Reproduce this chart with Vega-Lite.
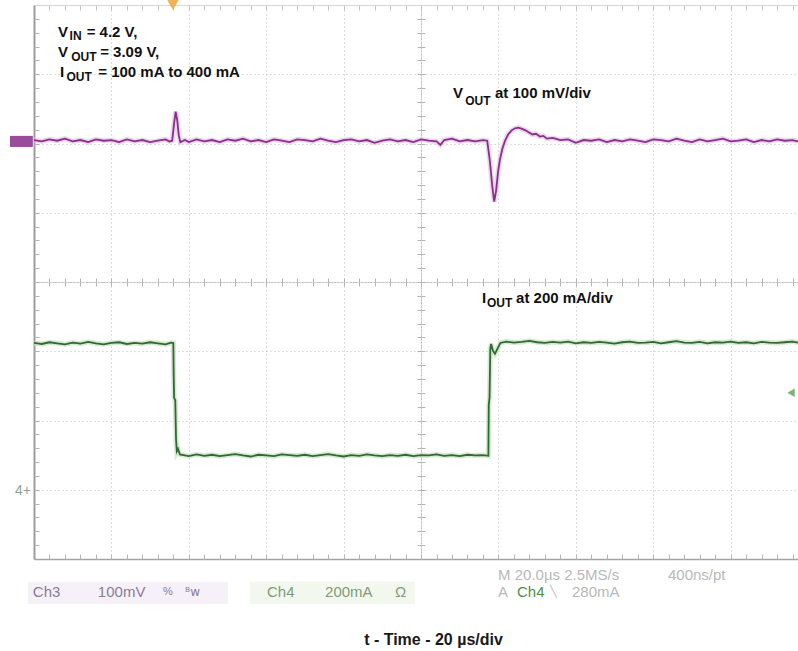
{
  "$schema": "https://vega.github.io/schema/vega-lite/v6.json",
  "width": 764,
  "height": 554,
  "autosize": "none",
  "padding": {"left": 34, "top": 5, "right": 0, "bottom": 92},
  "background": "white",
  "config": {"view": {"stroke": null}},
  "datasets": {
    "vout": [
      {"t": -100, "mv": 1}, {"t": -98, "mv": -1}, {"t": -96, "mv": 2}, {"t": -94, "mv": 0}, {"t": -92, "mv": 3},
      {"t": -90, "mv": -1}, {"t": -88, "mv": 1}, {"t": -86, "mv": -2}, {"t": -84, "mv": 2}, {"t": -82, "mv": 0},
      {"t": -80, "mv": 1}, {"t": -78, "mv": -2}, {"t": -76, "mv": 2}, {"t": -74, "mv": -1}, {"t": -72, "mv": 1},
      {"t": -70, "mv": -2}, {"t": -68, "mv": 0}, {"t": -66, "mv": 2}, {"t": -65, "mv": -1}, {"t": -64.3, "mv": 0},
      {"t": -63.8, "mv": 25}, {"t": -63.4, "mv": 42}, {"t": -63.0, "mv": 30}, {"t": -62.6, "mv": 8}, {"t": -62.2, "mv": -2},
      {"t": -61, "mv": 1}, {"t": -60, "mv": -2}, {"t": -58, "mv": 2}, {"t": -56, "mv": -1}, {"t": -54, "mv": 1},
      {"t": -52, "mv": -2}, {"t": -50, "mv": 2}, {"t": -48, "mv": 0}, {"t": -46, "mv": 3}, {"t": -44, "mv": -1},
      {"t": -42, "mv": 1}, {"t": -40, "mv": -2}, {"t": -38, "mv": 2}, {"t": -36, "mv": 0}, {"t": -34, "mv": -2},
      {"t": -32, "mv": 2}, {"t": -30, "mv": 1}, {"t": -28, "mv": -1}, {"t": -26, "mv": 3}, {"t": -24, "mv": 0},
      {"t": -22, "mv": -2}, {"t": -20, "mv": 1}, {"t": -18, "mv": 2}, {"t": -16, "mv": -1}, {"t": -14, "mv": 1},
      {"t": -12, "mv": -3}, {"t": -10, "mv": 0}, {"t": -8, "mv": 2}, {"t": -6, "mv": -1}, {"t": -4, "mv": 1},
      {"t": -2, "mv": -2}, {"t": 0, "mv": 2}, {"t": 2, "mv": 0}, {"t": 4, "mv": -1}, {"t": 5, "mv": -6},
      {"t": 6, "mv": 1}, {"t": 8, "mv": 3}, {"t": 10, "mv": -1}, {"t": 12, "mv": 1}, {"t": 14, "mv": -1},
      {"t": 16, "mv": 1}, {"t": 17.1, "mv": 0}, {"t": 17.8, "mv": -30}, {"t": 18.4, "mv": -65}, {"t": 18.9, "mv": -88},
      {"t": 19.4, "mv": -72}, {"t": 19.9, "mv": -45}, {"t": 20.4, "mv": -27}, {"t": 21.0, "mv": -12}, {"t": 21.7, "mv": 0},
      {"t": 22.5, "mv": 9}, {"t": 23.4, "mv": 15}, {"t": 24.3, "mv": 18}, {"t": 25.2, "mv": 19}, {"t": 26.1, "mv": 17},
      {"t": 27.0, "mv": 15}, {"t": 27.9, "mv": 12}, {"t": 28.8, "mv": 9}, {"t": 29.7, "mv": 10}, {"t": 30.7, "mv": 6},
      {"t": 31.6, "mv": 7}, {"t": 32.5, "mv": 3}, {"t": 34, "mv": 4}, {"t": 36, "mv": 1}, {"t": 38, "mv": 2},
      {"t": 40, "mv": -3}, {"t": 42, "mv": 1}, {"t": 44, "mv": 0}, {"t": 46, "mv": 2}, {"t": 48, "mv": -2},
      {"t": 50, "mv": 1}, {"t": 52, "mv": -1}, {"t": 54, "mv": 2}, {"t": 56, "mv": 0}, {"t": 58, "mv": -2},
      {"t": 60, "mv": 2}, {"t": 62, "mv": 1}, {"t": 64, "mv": -1}, {"t": 66, "mv": 3}, {"t": 68, "mv": 0},
      {"t": 70, "mv": -2}, {"t": 72, "mv": 2}, {"t": 74, "mv": -1}, {"t": 76, "mv": 1}, {"t": 78, "mv": 3},
      {"t": 80, "mv": -1}, {"t": 82, "mv": 0}, {"t": 84, "mv": 2}, {"t": 86, "mv": -2}, {"t": 88, "mv": 1},
      {"t": 90, "mv": -1}, {"t": 92, "mv": 2}, {"t": 94, "mv": 0}, {"t": 96, "mv": 1}, {"t": 97.4, "mv": -1}
    ],
    "iout": [
      {"t": -100, "ma": 428}, {"t": -98, "ma": 425}, {"t": -96, "ma": 430}, {"t": -94, "ma": 427}, {"t": -92, "ma": 424},
      {"t": -90, "ma": 429}, {"t": -88, "ma": 426}, {"t": -86, "ma": 431}, {"t": -84, "ma": 427}, {"t": -82, "ma": 424},
      {"t": -80, "ma": 428}, {"t": -78, "ma": 430}, {"t": -76, "ma": 425}, {"t": -74, "ma": 428}, {"t": -72, "ma": 426},
      {"t": -70, "ma": 430}, {"t": -68, "ma": 427}, {"t": -66, "ma": 424}, {"t": -64.6, "ma": 429}, {"t": -64.0, "ma": 428},
      {"t": -63.9, "ma": 330}, {"t": -63.8, "ma": 270}, {"t": -63.5, "ma": 262}, {"t": -63.3, "ma": 150}, {"t": -63.1, "ma": 115},
      {"t": -62.8, "ma": 122}, {"t": -62.3, "ma": 106}, {"t": -61, "ma": 103}, {"t": -60, "ma": 101}, {"t": -58, "ma": 106},
      {"t": -56, "ma": 102}, {"t": -54, "ma": 105}, {"t": -52, "ma": 101}, {"t": -50, "ma": 104}, {"t": -48, "ma": 107},
      {"t": -46, "ma": 103}, {"t": -44, "ma": 100}, {"t": -42, "ma": 105}, {"t": -40, "ma": 103}, {"t": -38, "ma": 101},
      {"t": -36, "ma": 106}, {"t": -34, "ma": 104}, {"t": -32, "ma": 102}, {"t": -30, "ma": 105}, {"t": -28, "ma": 101},
      {"t": -26, "ma": 104}, {"t": -24, "ma": 107}, {"t": -22, "ma": 103}, {"t": -20, "ma": 100}, {"t": -18, "ma": 104},
      {"t": -16, "ma": 102}, {"t": -14, "ma": 106}, {"t": -12, "ma": 103}, {"t": -10, "ma": 101}, {"t": -8, "ma": 104},
      {"t": -6, "ma": 102}, {"t": -4, "ma": 105}, {"t": -2, "ma": 101}, {"t": 0, "ma": 104}, {"t": 2, "ma": 103},
      {"t": 4, "ma": 106}, {"t": 6, "ma": 102}, {"t": 8, "ma": 104}, {"t": 10, "ma": 101}, {"t": 12, "ma": 105},
      {"t": 14, "ma": 103}, {"t": 16, "ma": 104}, {"t": 17.4, "ma": 102}, {"t": 17.5, "ma": 250}, {"t": 17.7, "ma": 270},
      {"t": 17.9, "ma": 410}, {"t": 18.1, "ma": 425}, {"t": 18.6, "ma": 405}, {"t": 19.1, "ma": 397}, {"t": 19.7, "ma": 410},
      {"t": 20.5, "ma": 428}, {"t": 22, "ma": 432}, {"t": 24, "ma": 429}, {"t": 26, "ma": 431}, {"t": 28, "ma": 434},
      {"t": 30, "ma": 430}, {"t": 32, "ma": 428}, {"t": 34, "ma": 431}, {"t": 36, "ma": 429}, {"t": 38, "ma": 432},
      {"t": 40, "ma": 427}, {"t": 42, "ma": 430}, {"t": 44, "ma": 428}, {"t": 46, "ma": 431}, {"t": 48, "ma": 429},
      {"t": 50, "ma": 426}, {"t": 52, "ma": 430}, {"t": 54, "ma": 432}, {"t": 56, "ma": 428}, {"t": 58, "ma": 429},
      {"t": 60, "ma": 431}, {"t": 62, "ma": 427}, {"t": 64, "ma": 430}, {"t": 66, "ma": 433}, {"t": 68, "ma": 429},
      {"t": 70, "ma": 428}, {"t": 72, "ma": 431}, {"t": 74, "ma": 427}, {"t": 76, "ma": 430}, {"t": 78, "ma": 429},
      {"t": 80, "ma": 432}, {"t": 82, "ma": 428}, {"t": 84, "ma": 430}, {"t": 86, "ma": 427}, {"t": 88, "ma": 431},
      {"t": 90, "ma": 429}, {"t": 92, "ma": 428}, {"t": 94, "ma": 430}, {"t": 96, "ma": 432}, {"t": 97.4, "ma": 429}
    ]
  },
  "layer": [
    {
      "data": {"values": [{}]},
      "layer": [
        {"mark": {"type": "rule", "opacity": 0}, "encoding": {"x": {"datum": 0, "type": "quantitative", "scale": {"domain": [-100, 97.4], "nice": false, "zero": false},
          "axis": {"orient": "bottom", "values": [-80, -60, -40, -20, 0, 20, 40, 60, 80], "grid": true, "gridColor": "#bdbdbd", "gridDash": [1, 3], "gridWidth": 1, "ticks": false, "labels": false, "domain": true, "domainColor": "#a3a3a3", "domainWidth": 1.5,
            "title": "t - Time - 20 µs/div", "titleFont": "Liberation Sans", "titleFontSize": 16, "titleFontWeight": "bold", "titleColor": "#1a1a1a", "titleAlign": "center", "titleBaseline": "alphabetic", "titleX": 399, "titleY": 85}}}},
        {"mark": {"type": "rule", "opacity": 0}, "encoding": {"x": {"datum": 0, "type": "quantitative", "scale": {"domain": [-100, 97.4], "nice": false, "zero": false},
          "axis": {"orient": "top", "offset": -554, "values": [-96,-92,-88,-84,-80,-76,-72,-68,-64,-60,-56,-52,-48,-44,-40,-36,-32,-28,-24,-20,-16,-12,-8,-4,0,4,8,12,16,20,24,28,32,36,40,44,48,52,56,60,64,68,72,76,80,84,88,92,96], "grid": false, "ticks": true, "tickSize": 5, "tickColor": "#b5b5b5", "labels": false, "domain": false, "title": null}}}},
        {"mark": {"type": "rule", "opacity": 0}, "encoding": {"x": {"datum": 0, "type": "quantitative", "scale": {"domain": [-100, 97.4], "nice": false, "zero": false},
          "axis": {"orient": "bottom", "offset": -554, "values": [-96,-92,-88,-84,-80,-76,-72,-68,-64,-60,-56,-52,-48,-44,-40,-36,-32,-28,-24,-20,-16,-12,-8,-4,0,4,8,12,16,20,24,28,32,36,40,44,48,52,56,60,64,68,72,76,80,84,88,92,96], "grid": false, "ticks": true, "tickSize": 5, "tickColor": "#c4c4c4", "labels": false, "domain": true, "domainColor": "#d6d6d6", "title": null}}}},
        {"mark": {"type": "rule", "opacity": 0}, "encoding": {"x": {"datum": 0, "type": "quantitative", "scale": {"domain": [-100, 97.4], "nice": false, "zero": false},
          "axis": {"orient": "bottom", "offset": -277, "values": [-96,-92,-88,-84,-80,-76,-72,-68,-64,-60,-56,-52,-48,-44,-40,-36,-32,-28,-24,-20,-16,-12,-8,-4,0,4,8,12,16,20,24,28,32,36,40,44,48,52,56,60,64,68,72,76,80,84,88,92,96], "grid": false, "ticks": true, "tickSize": 4, "tickColor": "#b5b5b5", "labels": false, "domain": true, "domainColor": "#bdbdbd", "domainDash": [2, 1], "title": null}}}},
        {"mark": {"type": "rule", "opacity": 0}, "encoding": {"x": {"datum": 0, "type": "quantitative", "scale": {"domain": [-100, 97.4], "nice": false, "zero": false},
          "axis": {"orient": "top", "offset": -277, "values": [-96,-92,-88,-84,-80,-76,-72,-68,-64,-60,-56,-52,-48,-44,-40,-36,-32,-28,-24,-20,-16,-12,-8,-4,0,4,8,12,16,20,24,28,32,36,40,44,48,52,56,60,64,68,72,76,80,84,88,92,96], "grid": false, "ticks": true, "tickSize": 4, "tickColor": "#b5b5b5", "labels": false, "domain": false, "title": null}}}},
        {"mark": {"type": "rule", "opacity": 0}, "encoding": {"y": {"datum": 0, "type": "quantitative", "scale": {"domain": [-4, 4], "nice": false, "zero": false},
          "axis": {"orient": "left", "values": [-3, -2, -1, 0, 1, 2, 3], "grid": true, "gridColor": "#bdbdbd", "gridDash": [1, 3], "gridWidth": 1, "ticks": false, "labels": false, "domain": true, "domainColor": "#9d9d9d", "domainWidth": 2, "title": null}}}},
        {"mark": {"type": "rule", "opacity": 0}, "encoding": {"y": {"datum": 0, "type": "quantitative", "scale": {"domain": [-4, 4], "nice": false, "zero": false},
          "axis": {"orient": "right", "offset": -764, "values": [-3.8,-3.6,-3.4,-3.2,-3,-2.8,-2.6,-2.4,-2.2,-2,-1.8,-1.6,-1.4,-1.2,-1,-0.8,-0.6,-0.4,-0.2,0,0.2,0.4,0.6,0.8,1,1.2,1.4,1.6,1.8,2,2.2,2.4,2.6,2.8,3,3.2,3.4,3.6,3.8], "grid": false, "ticks": true, "tickSize": 5, "tickColor": "#b5b5b5", "labels": false, "domain": false, "title": null}}}},
        {"mark": {"type": "rule", "opacity": 0}, "encoding": {"y": {"datum": 0, "type": "quantitative", "scale": {"domain": [-4, 4], "nice": false, "zero": false},
          "axis": {"orient": "left", "offset": -387, "values": [-3.8,-3.6,-3.4,-3.2,-3,-2.8,-2.6,-2.4,-2.2,-2,-1.8,-1.6,-1.4,-1.2,-1,-0.8,-0.6,-0.4,-0.2,0,0.2,0.4,0.6,0.8,1,1.2,1.4,1.6,1.8,2,2.2,2.4,2.6,2.8,3,3.2,3.4,3.6,3.8], "grid": false, "ticks": true, "tickSize": 4, "tickColor": "#b5b5b5", "labels": false, "domain": true, "domainColor": "#bdbdbd", "domainDash": [2, 1], "title": null}}}},
        {"mark": {"type": "rule", "opacity": 0}, "encoding": {"y": {"datum": 0, "type": "quantitative", "scale": {"domain": [-4, 4], "nice": false, "zero": false},
          "axis": {"orient": "right", "offset": -377, "values": [-3.8,-3.6,-3.4,-3.2,-3,-2.8,-2.6,-2.4,-2.2,-2,-1.8,-1.6,-1.4,-1.2,-1,-0.8,-0.6,-0.4,-0.2,0,0.2,0.4,0.6,0.8,1,1.2,1.4,1.6,1.8,2,2.2,2.4,2.6,2.8,3,3.2,3.4,3.6,3.8], "grid": false, "ticks": true, "tickSize": 4, "tickColor": "#b5b5b5", "labels": false, "domain": false, "title": null}}}},

        {"mark": {"type": "rect", "color": "#f6f1f8"}, "encoding": {"x": {"datum": -101.6, "type": "quantitative", "axis": null}, "x2": {"datum": -49.9}, "y": {"datum": -4.33, "type": "quantitative", "axis": null}, "y2": {"datum": -4.65}}},
        {"mark": {"type": "rect", "color": "#f3f8ef"}, "encoding": {"x": {"datum": -44.2, "type": "quantitative", "axis": null}, "x2": {"datum": -1.6}, "y": {"datum": -4.33, "type": "quantitative", "axis": null}, "y2": {"datum": -4.65}}},

        {"mark": {"type": "rect", "color": "#9a4c9c"}, "encoding": {"x": {"datum": -106.2, "type": "quantitative", "axis": null}, "x2": {"datum": -100.3}, "y": {"datum": 1.95, "type": "quantitative", "axis": null}, "y2": {"datum": 2.11}}},
        {"mark": {"type": "point", "shape": "triangle-down", "filled": true, "size": 130, "color": "#f2a43a", "opacity": 0.85}, "encoding": {"x": {"datum": -64.1, "type": "quantitative", "axis": null}, "y": {"datum": 4, "type": "quantitative", "axis": null}}},
        {"mark": {"type": "point", "shape": "triangle-left", "filled": true, "size": 70, "color": "#5a9e5a", "opacity": 0.8}, "encoding": {"x": {"datum": 95.6, "type": "quantitative", "axis": null}, "y": {"datum": -1.6, "type": "quantitative", "axis": null}}},
        {"mark": {"type": "text", "align": "left", "baseline": "middle", "font": "Liberation Sans", "fontSize": 14, "color": "#8fa08f"}, "encoding": {"x": {"datum": -104.9, "type": "quantitative", "axis": null}, "y": {"datum": -3.02, "type": "quantitative", "axis": null}, "text": {"value": "4+"}}},

        {"mark": {"type": "text", "align": "left", "baseline": "alphabetic", "font": "Liberation Sans", "fontWeight": "bold", "fontSize": 15, "color": "#111111"}, "encoding": {"x": {"datum": -93.8, "type": "quantitative", "axis": null}, "y": {"datum": 3.538, "type": "quantitative", "axis": null}, "text": {"value": "V"}}},
        {"mark": {"type": "text", "align": "left", "baseline": "alphabetic", "font": "Liberation Sans", "fontWeight": "bold", "fontSize": 12, "color": "#111111"}, "encoding": {"x": {"datum": -90.8, "type": "quantitative", "axis": null}, "y": {"datum": 3.49, "type": "quantitative", "axis": null}, "text": {"value": "IN"}}},
        {"mark": {"type": "text", "align": "left", "baseline": "alphabetic", "font": "Liberation Sans", "fontWeight": "bold", "fontSize": 15, "color": "#111111"}, "encoding": {"x": {"datum": -86.4, "type": "quantitative", "axis": null}, "y": {"datum": 3.538, "type": "quantitative", "axis": null}, "text": {"value": "= 4.2 V,"}}},
        {"mark": {"type": "text", "align": "left", "baseline": "alphabetic", "font": "Liberation Sans", "fontWeight": "bold", "fontSize": 15, "color": "#111111"}, "encoding": {"x": {"datum": -93.8, "type": "quantitative", "axis": null}, "y": {"datum": 3.249, "type": "quantitative", "axis": null}, "text": {"value": "V"}}},
        {"mark": {"type": "text", "align": "left", "baseline": "alphabetic", "font": "Liberation Sans", "fontWeight": "bold", "fontSize": 12, "color": "#111111"}, "encoding": {"x": {"datum": -90.4, "type": "quantitative", "axis": null}, "y": {"datum": 3.191, "type": "quantitative", "axis": null}, "text": {"value": "OUT"}}},
        {"mark": {"type": "text", "align": "left", "baseline": "alphabetic", "font": "Liberation Sans", "fontWeight": "bold", "fontSize": 15, "color": "#111111"}, "encoding": {"x": {"datum": -82.9, "type": "quantitative", "axis": null}, "y": {"datum": 3.249, "type": "quantitative", "axis": null}, "text": {"value": "= 3.09 V,"}}},
        {"mark": {"type": "text", "align": "left", "baseline": "alphabetic", "font": "Liberation Sans", "fontWeight": "bold", "fontSize": 15, "color": "#111111"}, "encoding": {"x": {"datum": -93.3, "type": "quantitative", "axis": null}, "y": {"datum": 2.96, "type": "quantitative", "axis": null}, "text": {"value": "I"}}},
        {"mark": {"type": "text", "align": "left", "baseline": "alphabetic", "font": "Liberation Sans", "fontWeight": "bold", "fontSize": 12, "color": "#111111"}, "encoding": {"x": {"datum": -91.6, "type": "quantitative", "axis": null}, "y": {"datum": 2.903, "type": "quantitative", "axis": null}, "text": {"value": "OUT"}}},
        {"mark": {"type": "text", "align": "left", "baseline": "alphabetic", "font": "Liberation Sans", "fontWeight": "bold", "fontSize": 15, "color": "#111111"}, "encoding": {"x": {"datum": -83.4, "type": "quantitative", "axis": null}, "y": {"datum": 2.96, "type": "quantitative", "axis": null}, "text": {"value": "= 100 mA to 400 mA"}}},
        {"mark": {"type": "text", "align": "left", "baseline": "alphabetic", "font": "Liberation Sans", "fontWeight": "bold", "fontSize": 15, "color": "#111111"}, "encoding": {"x": {"datum": 8.27, "type": "quantitative", "axis": null}, "y": {"datum": 2.657, "type": "quantitative", "axis": null}, "text": {"value": "V"}}},
        {"mark": {"type": "text", "align": "left", "baseline": "alphabetic", "font": "Liberation Sans", "fontWeight": "bold", "fontSize": 12, "color": "#111111"}, "encoding": {"x": {"datum": 11.4, "type": "quantitative", "axis": null}, "y": {"datum": 2.556, "type": "quantitative", "axis": null}, "text": {"value": "OUT"}}},
        {"mark": {"type": "text", "align": "left", "baseline": "alphabetic", "font": "Liberation Sans", "fontWeight": "bold", "fontSize": 15, "color": "#111111"}, "encoding": {"x": {"datum": 19.1, "type": "quantitative", "axis": null}, "y": {"datum": 2.657, "type": "quantitative", "axis": null}, "text": {"value": "at 100 mV/div"}}},
        {"mark": {"type": "text", "align": "left", "baseline": "alphabetic", "font": "Liberation Sans", "fontWeight": "bold", "fontSize": 15, "color": "#111111"}, "encoding": {"x": {"datum": 15.76, "type": "quantitative", "axis": null}, "y": {"datum": -0.303, "type": "quantitative", "axis": null}, "text": {"value": "I"}}},
        {"mark": {"type": "text", "align": "left", "baseline": "alphabetic", "font": "Liberation Sans", "fontWeight": "bold", "fontSize": 12, "color": "#111111"}, "encoding": {"x": {"datum": 17.05, "type": "quantitative", "axis": null}, "y": {"datum": -0.368, "type": "quantitative", "axis": null}, "text": {"value": "OUT"}}},
        {"mark": {"type": "text", "align": "left", "baseline": "alphabetic", "font": "Liberation Sans", "fontWeight": "bold", "fontSize": 15, "color": "#111111"}, "encoding": {"x": {"datum": 24.55, "type": "quantitative", "axis": null}, "y": {"datum": -0.303, "type": "quantitative", "axis": null}, "text": {"value": "at 200 mA/div"}}},

        {"mark": {"type": "text", "align": "left", "baseline": "middle", "font": "Liberation Sans", "fontSize": 15, "color": "#8c7a9a"}, "encoding": {"x": {"datum": -100.3, "type": "quantitative", "axis": null}, "y": {"datum": -4.477, "type": "quantitative", "axis": null}, "text": {"value": "Ch3"}}},
        {"mark": {"type": "text", "align": "left", "baseline": "middle", "font": "Liberation Sans", "fontSize": 15, "color": "#8c7a9a"}, "encoding": {"x": {"datum": -83.5, "type": "quantitative", "axis": null}, "y": {"datum": -4.477, "type": "quantitative", "axis": null}, "text": {"value": "100mV"}}},
        {"mark": {"type": "text", "align": "left", "baseline": "middle", "font": "Liberation Sans", "fontSize": 11, "color": "#8c7a9a"}, "encoding": {"x": {"datum": -66.7, "type": "quantitative", "axis": null}, "y": {"datum": -4.477, "type": "quantitative", "axis": null}, "text": {"value": "%"}}},
        {"mark": {"type": "text", "align": "left", "baseline": "middle", "font": "DejaVu Sans", "fontSize": 12, "color": "#8c7a9a"}, "encoding": {"x": {"datum": -61.0, "type": "quantitative", "axis": null}, "y": {"datum": -4.477, "type": "quantitative", "axis": null}, "text": {"value": "ᴮw"}}},
        {"mark": {"type": "text", "align": "left", "baseline": "middle", "font": "Liberation Sans", "fontSize": 15, "color": "#7f9b79"}, "encoding": {"x": {"datum": -39.8, "type": "quantitative", "axis": null}, "y": {"datum": -4.477, "type": "quantitative", "axis": null}, "text": {"value": "Ch4"}}},
        {"mark": {"type": "text", "align": "left", "baseline": "middle", "font": "Liberation Sans", "fontSize": 15, "color": "#7f9b79"}, "encoding": {"x": {"datum": -24.8, "type": "quantitative", "axis": null}, "y": {"datum": -4.477, "type": "quantitative", "axis": null}, "text": {"value": "200mA"}}},
        {"mark": {"type": "text", "align": "left", "baseline": "middle", "font": "Liberation Sans", "fontSize": 15, "color": "#7f9b79"}, "encoding": {"x": {"datum": -6.7, "type": "quantitative", "axis": null}, "y": {"datum": -4.477, "type": "quantitative", "axis": null}, "text": {"value": "Ω"}}},
        {"mark": {"type": "text", "align": "left", "baseline": "middle", "font": "Liberation Sans", "fontSize": 15, "color": "#b8b8b8"}, "encoding": {"x": {"datum": 19.9, "type": "quantitative", "axis": null}, "y": {"datum": -4.231, "type": "quantitative", "axis": null}, "text": {"value": "M 20.0µs 2.5MS/s"}}},
        {"mark": {"type": "text", "align": "left", "baseline": "middle", "font": "Liberation Sans", "fontSize": 15, "color": "#b8b8b8"}, "encoding": {"x": {"datum": 63.8, "type": "quantitative", "axis": null}, "y": {"datum": -4.231, "type": "quantitative", "axis": null}, "text": {"value": "400ns/pt"}}},
        {"mark": {"type": "text", "align": "left", "baseline": "middle", "font": "Liberation Sans", "fontSize": 15, "color": "#b8b8b8"}, "encoding": {"x": {"datum": 19.9, "type": "quantitative", "axis": null}, "y": {"datum": -4.477, "type": "quantitative", "axis": null}, "text": {"value": "A"}}},
        {"mark": {"type": "text", "align": "left", "baseline": "middle", "font": "Liberation Sans", "fontSize": 15, "color": "#4f8f4f"}, "encoding": {"x": {"datum": 24.8, "type": "quantitative", "axis": null}, "y": {"datum": -4.477, "type": "quantitative", "axis": null}, "text": {"value": "Ch4"}}},
        {"mark": {"type": "text", "align": "left", "baseline": "middle", "font": "DejaVu Sans", "fontSize": 11, "color": "#b8b8b8"}, "encoding": {"x": {"datum": 33.3, "type": "quantitative", "axis": null}, "y": {"datum": -4.477, "type": "quantitative", "axis": null}, "text": {"value": "╲"}}},
        {"mark": {"type": "text", "align": "left", "baseline": "middle", "font": "Liberation Sans", "fontSize": 15, "color": "#b8b8b8"}, "encoding": {"x": {"datum": 39.0, "type": "quantitative", "axis": null}, "y": {"datum": -4.477, "type": "quantitative", "axis": null}, "text": {"value": "280mA"}}}
      ],
      "resolve": {"axis": {"x": "independent", "y": "independent"}}
    },
    {
      "data": {"name": "vout"},
      "encoding": {
        "x": {"field": "t", "type": "quantitative", "scale": {"domain": [-100, 97.4], "nice": false, "zero": false}, "axis": null},
        "y": {"field": "mv", "type": "quantitative", "scale": {"domain": [-604, 196], "nice": false, "zero": false}, "axis": null}
      },
      "layer": [
        {"mark": {"type": "line", "color": "#e3c6e6", "strokeWidth": 5, "opacity": 0.7}},
        {"mark": {"type": "line", "color": "#8a2f8c", "strokeWidth": 1.8}}
      ]
    },
    {
      "data": {"name": "iout"},
      "encoding": {
        "x": {"field": "t", "type": "quantitative", "scale": {"domain": [-100, 97.4], "nice": false, "zero": false}, "axis": null},
        "y": {"field": "ma", "type": "quantitative", "scale": {"domain": [-196, 1404], "nice": false, "zero": false}, "axis": null}
      },
      "layer": [
        {"mark": {"type": "line", "color": "#c4e0bd", "strokeWidth": 5, "opacity": 0.7}},
        {"mark": {"type": "line", "color": "#2f6a33", "strokeWidth": 1.8}}
      ]
    }
  ],
  "resolve": {"scale": {"y": "independent"}, "axis": {"x": "independent", "y": "independent"}}
}
